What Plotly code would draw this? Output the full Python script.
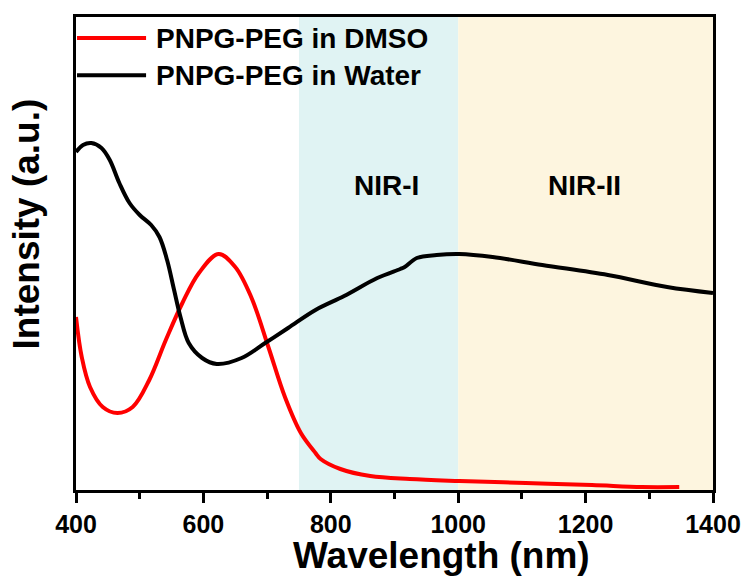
import plotly.graph_objects as go

# Water (black) spectrum: wavelength (nm), intensity (a.u.)
water_x = [400, 411, 424, 440, 453, 468, 484, 500, 518, 531, 543, 554, 564, 577, 598, 621, 660, 697, 733, 776,
           821, 873, 909, 916, 935, 966, 1002, 1054, 1132, 1235, 1328, 1400]
water_y = [338, 345, 347, 342, 330, 307, 287, 275, 265, 253, 230, 200, 173, 147, 132, 126, 132, 147, 162, 180,
           194, 212, 221, 223, 232, 235, 236, 233, 225, 215, 203, 197]

# DMSO (red) spectrum
dmso_x = [400, 409, 422, 442, 465, 489, 515, 541, 567, 593, 624, 650, 675, 702, 728, 753, 776, 784, 815, 862,
          924, 1002, 1106, 1210, 1288, 1347]
dmso_y = [173, 133, 103, 83, 77, 83, 110, 150, 187, 217, 236, 223, 193, 143, 93, 57, 37, 31, 21, 14,
          11, 9, 7, 5, 3, 3]

series_names = ["PNPG-PEG in DMSO", "PNPG-PEG in Water"]
series_colors = ["#ff0000", "#000000"]

# spectral regions: start, end, label, label x position, fill colour
region_start = [750, 1000]
region_end = [1000, 1400]
region_labels = ["NIR-I", "NIR-II"]
region_label_x = [887, 1199]
region_colors = ["#e0f3f3", "#fdf5df"]

x_ticks = [400, 600, 800, 1000, 1200, 1400]
x_minor = [500, 700, 900, 1100, 1300]

FONT = "Liberation Sans, Arial, sans-serif"

fig = go.Figure()
fig.add_trace(go.Scatter(x=dmso_x, y=dmso_y, mode="lines", name=series_names[0], showlegend=False,
                         line=dict(color=series_colors[0], width=4, shape="spline", smoothing=1.0)))
fig.add_trace(go.Scatter(x=water_x, y=water_y, mode="lines", name=series_names[1], showlegend=False,
                         line=dict(color=series_colors[1], width=4, shape="spline", smoothing=1.0)))

for x0, x1, label, lx, col in zip(region_start, region_end, region_labels, region_label_x, region_colors):
    fig.add_shape(type="rect", xref="x", yref="paper", x0=x0, x1=x1, y0=0, y1=1,
                  fillcolor=col, line=dict(width=0), layer="below")
    fig.add_annotation(x=lx, y=305, xref="x", yref="y", text=f"<b>{label}</b>",
                       showarrow=False, font=dict(family=FONT, size=28, color="black"))

# legend drawn inside plot area (top-left)
legend_rows_y = [0.9556, 0.877]
for name, col, ly in zip(series_names, series_colors, legend_rows_y):
    fig.add_shape(type="line", xref="paper", yref="paper", x0=0.0016, x1=0.110, y0=ly, y1=ly,
                  line=dict(color=col, width=4))
    fig.add_annotation(x=0.1229, y=ly, xref="paper", yref="paper", xanchor="left", yanchor="middle",
                       text=f"<b>{name}</b>", showarrow=False,
                       font=dict(family=FONT, size=28, color="black"))

# axis titles
fig.add_annotation(x=0.573, y=-0.139, xref="paper", yref="paper", xanchor="center", yanchor="middle",
                   text="<b>Wavelength (nm)</b>", showarrow=False,
                   font=dict(family=FONT, size=37, color="black"))
fig.add_annotation(x=-0.078, y=0.562, xref="paper", yref="paper", xanchor="center", yanchor="middle",
                   text="<b>Intensity (a.u.)</b>", showarrow=False, textangle=-90,
                   font=dict(family=FONT, size=37, color="black"))

fig.update_layout(
    width=753, height=579,
    margin=dict(l=76, r=34, t=17, b=89),
    paper_bgcolor="white", plot_bgcolor="white",
    font=dict(family=FONT, color="black"),
    showlegend=False,
)
fig.update_xaxes(range=[400, 1400], tickvals=x_ticks,
                 ticks="outside", ticklen=10, tickwidth=2.5, tickcolor="black",
                 minor=dict(tickvals=x_minor, ticks="outside", ticklen=6, tickwidth=2.5, tickcolor="black"),
                 showline=True, linewidth=2.5, linecolor="black", mirror=True, showgrid=False, zeroline=False,
                 tickfont=dict(family=FONT, size=25, color="black", weight="bold"))
fig.update_yaxes(range=[0, 473], showticklabels=False, ticks="",
                 showline=True, linewidth=2.5, linecolor="black", mirror=True, showgrid=False, zeroline=False)

fig.write_html("out.html")
